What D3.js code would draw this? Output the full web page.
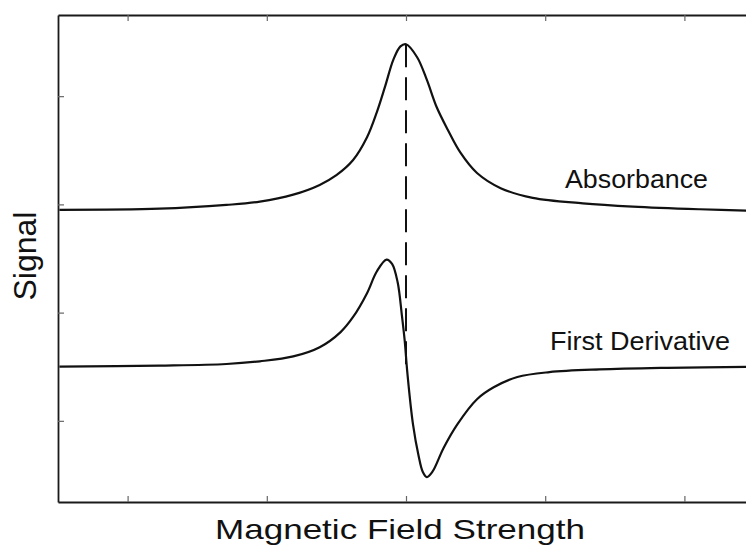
<!DOCTYPE html>
<html>
<head>
<meta charset="utf-8">
<script src="https://cdn.jsdelivr.net/npm/d3@7"></script>
<style>
  html, body { margin: 0; padding: 0; background: #fff; }
  svg { display: block; }
  text { font-family: "Liberation Sans", Arial, Helvetica, sans-serif; fill: #111; }
</style>
</head>
<body>
<svg id="chart" width="746" height="546"></svg>
<script>
// ---- data ----
const absorbanceX = [0.01,0.73,1.21,1.45,1.69,1.88,2.00,2.12,2.22,2.29,2.35,2.41,2.46,2.50,2.58,2.65,2.72,2.80,2.89,3.01,3.18,3.41,3.77,4.13,4.61,5.00];
const absorbanceY = [2.70,2.71,2.745,2.775,2.84,2.93,3.02,3.16,3.37,3.60,3.84,4.09,4.21,4.23,4.11,3.90,3.65,3.44,3.23,3.04,2.90,2.81,2.76,2.73,2.705,2.69];

const derivativeX = [0.01,0.73,1.21,1.45,1.69,1.88,2.03,2.12,2.22,2.29,2.36,2.40,2.44,2.47,2.49,2.51,2.55,2.59,2.62,2.65,2.69,2.77,2.87,3.01,3.13,3.30,3.53,3.89,4.38,5.00];
const derivativeY = [1.25,1.26,1.275,1.30,1.345,1.43,1.57,1.71,1.93,2.13,2.24,2.20,2.03,1.73,1.50,1.19,0.72,0.43,0.28,0.23,0.28,0.50,0.72,0.95,1.06,1.155,1.20,1.225,1.24,1.25];

const resonanceX = 2.5;          // centre field (dashed marker)
const resonanceYTop = 4.23;      // absorbance maximum
const resonanceYBottom = 1.25;   // derivative zero crossing

const xTicks = [0.5, 1.5, 2.5, 3.5, 4.5];
const yTicks = [0.75, 1.75, 2.75, 3.75];

const seriesLabels = ["Absorbance", "First Derivative"];
const xTitle = "Magnetic Field Strength";
const yTitle = "Signal";

// ---- layout ----
(function () {
const svg = d3.select("#chart");
const mLeft = 58, mRight = 754, mTop = 15, mBottom = 502;

const x = d3.scaleLinear().domain([0, 5]).range([mLeft, mRight]);
const y = d3.scaleLinear().domain([0, 4.5]).range([mBottom, mTop]);

svg.append("rect").attr("width", 746).attr("height", 546).attr("fill", "#fff");

// axes with inward ticks, no labels
function styleAxis(g) {
  g.select(".domain").attr("stroke", "#1a1a1a").attr("stroke-width", 1.8);
  g.selectAll(".tick line").attr("stroke", "#666").attr("stroke-width", 1.2);
  g.selectAll(".tick text").remove();
}
svg.append("g").attr("transform", `translate(0,${mBottom})`)
  .call(d3.axisBottom(x).tickValues(xTicks).tickSize(-6).tickSizeOuter(0).tickFormat(""))
  .call(styleAxis);
svg.append("g").attr("transform", `translate(0,${mTop})`)
  .call(d3.axisTop(x).tickValues(xTicks).tickSize(-6).tickSizeOuter(0).tickFormat(""))
  .call(styleAxis);
svg.append("g").attr("transform", `translate(${mLeft},0)`)
  .call(d3.axisLeft(y).tickValues(yTicks).tickSize(-6).tickSizeOuter(0).tickFormat(""))
  .call(styleAxis);
svg.append("g").attr("transform", `translate(${mRight},0)`)
  .call(d3.axisRight(y).tickValues(yTicks).tickSize(-6).tickSizeOuter(0).tickFormat(""))
  .call(styleAxis);

// curves
const line = d3.line().x(d => x(d[0])).y(d => y(d[1])).curve(d3.curveCatmullRom.alpha(0.5));
const absData = absorbanceX.map((v, i) => [v, absorbanceY[i]]);
const derData = derivativeX.map((v, i) => [v, derivativeY[i]]);

// dashed resonance marker
svg.append("line")
  .attr("x1", x(resonanceX)).attr("x2", x(resonanceX))
  .attr("y1", y(resonanceYTop)).attr("y2", y(resonanceYBottom))
  .attr("stroke", "#111").attr("stroke-width", 2)
  .attr("stroke-dasharray", "23,10");

[absData, derData].forEach(d => {
  svg.append("path").datum(d)
    .attr("d", line)
    .attr("fill", "none")
    .attr("stroke", "#111")
    .attr("stroke-width", 2.2)
    .attr("stroke-linejoin", "round");
});

// series labels
svg.append("text").attr("x", 565).attr("y", 188)
  .attr("font-size", 25).attr("textLength", 143).attr("lengthAdjust", "spacingAndGlyphs")
  .text(seriesLabels[0]);
svg.append("text").attr("x", 550).attr("y", 350)
  .attr("font-size", 25).attr("textLength", 180).attr("lengthAdjust", "spacingAndGlyphs")
  .text(seriesLabels[1]);

// axis titles
svg.append("text").attr("x", 215).attr("y", 539)
  .attr("font-size", 28).attr("textLength", 370).attr("lengthAdjust", "spacingAndGlyphs")
  .text(xTitle);
svg.append("text")
  .attr("transform", "translate(36,256) rotate(-90)")
  .attr("text-anchor", "middle")
  .attr("font-size", 32)
  .text(yTitle);
})();
</script>
</body>
</html>
